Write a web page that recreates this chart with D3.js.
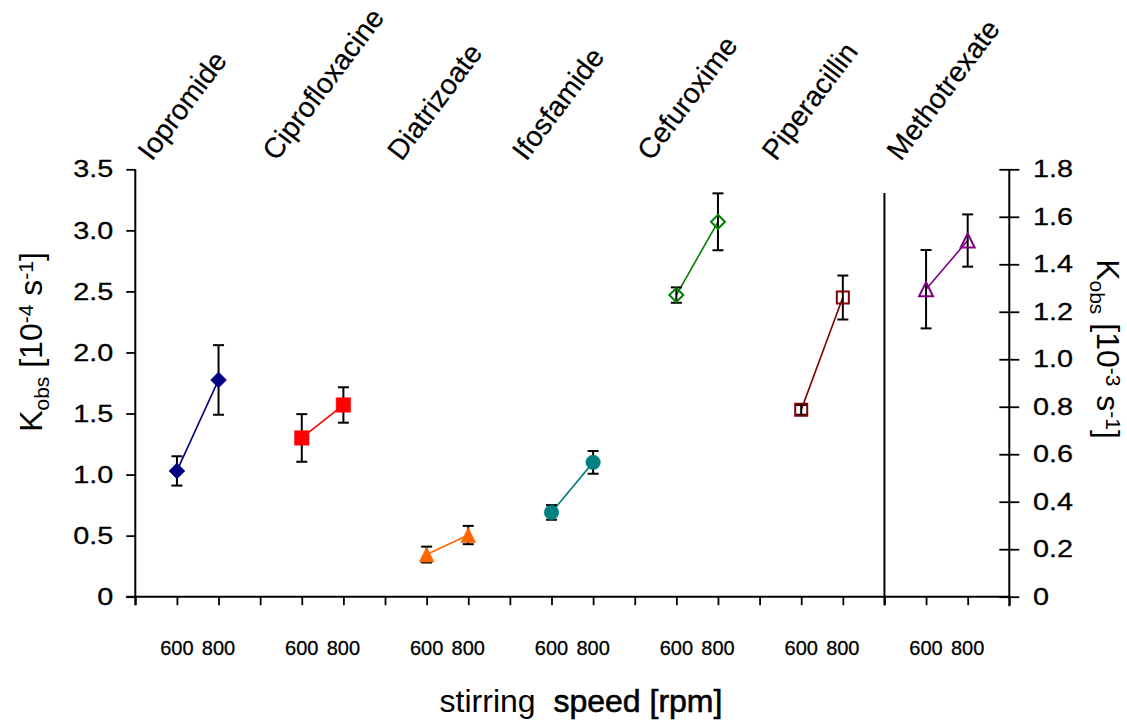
<!DOCTYPE html>
<html>
<head>
<meta charset="utf-8">
<script src="https://cdn.jsdelivr.net/npm/d3@7"></script>
<style>
  html, body { margin: 0; padding: 0; background: #fff; }
  svg { display: block; font-family: "Liberation Sans", Arial, Helvetica, sans-serif; }
</style>
</head>
<body>
<svg id="chart" width="1127" height="720"></svg>
<script>
// ---- data ----
const compounds = ["Iopromide", "Ciprofloxacine", "Diatrizoate", "Ifosfamide", "Cefuroxime", "Piperacillin", "Methotrexate"];
const speeds = [600, 800];
// Kobs values; first six on left axis [10^-4 s^-1], Methotrexate on right axis [10^-3 s^-1]
const kobs600 = [1.03, 1.30, 0.345, 0.69, 2.47, 1.53, 1.295];
const kobs800 = [1.775, 1.57, 0.505, 1.10, 3.07, 2.45, 1.50];
const err600 = [0.12, 0.195, 0.065, 0.06, 0.063, 0.04, 0.165];
const err800 = [0.285, 0.145, 0.075, 0.093, 0.233, 0.18, 0.11];
const axisSide = ["left", "left", "left", "left", "left", "left", "right"];
const leftTicks = [0, 0.5, 1.0, 1.5, 2.0, 2.5, 3.0, 3.5];
const rightTicks = [0, 0.2, 0.4, 0.6, 0.8, 1.0, 1.2, 1.4, 1.6, 1.8];

// styling per series
const colors = ["#000080", "#FF0000", "#FF6600", "#008080", "#008000", "#800000", "#800080"];
const shapes = ["diamond", "square", "triangle", "circle", "diamond", "square", "triangle"];
const filled = [true, true, true, true, false, false, false];

const svg = d3.select("#chart");
const plotLeft = 135.3, plotRight = 1009.3, plotBottom = 596.7, plotTop = 169.3;

const x = d3.scaleLinear().domain([0, 21]).range([plotLeft, plotRight]);
const yL = d3.scaleLinear().domain([0, 3.5]).range([plotBottom, plotTop]);
const yR = d3.scaleLinear().domain([0, 1.8]).range([plotBottom, plotTop]);

const FONT = '"Liberation Sans", Arial, Helvetica, sans-serif';
const stretch = 1.2;

// ---- left axis ----
const gL = svg.append("g").attr("transform", `translate(${plotLeft},0)`)
  .call(d3.axisLeft(yL).tickValues(leftTicks).tickSize(9).tickSizeOuter(0)
    .tickFormat(d => d === 0 ? "0" : d3.format(".1f")(d)));
gL.select(".domain").attr("stroke-width", 2).attr("d", `M0,${plotTop}V${plotBottom + 8.5}`);
gL.selectAll(".tick line").attr("stroke-width", 1.8);
gL.selectAll(".tick text")
  .attr("font-family", FONT).attr("font-size", 24).attr("fill", "#000")
  .attr("stroke", "#000").attr("stroke-width", 0.3)
  .attr("x", -22 / stretch).attr("transform", `scale(${stretch},1)`);

// ---- right axis ----
const gR = svg.append("g").attr("transform", `translate(${plotRight},0)`)
  .call(d3.axisRight(yR).tickValues(rightTicks).tickSize(10).tickSizeOuter(0)
    .tickFormat(d => d === 0 ? "0" : d3.format(".1f")(d)));
gR.select(".domain").attr("stroke-width", 2).attr("d", `M0,${plotTop}V${plotBottom + 9.5}`);
gR.selectAll(".tick line").attr("stroke-width", 1.8).attr("x1", -10).attr("x2", 10);
gR.selectAll(".tick text")
  .attr("font-family", FONT).attr("font-size", 24).attr("fill", "#000")
  .attr("stroke", "#000").attr("stroke-width", 0.3)
  .attr("x", 23.7 / stretch).attr("transform", `scale(${stretch},1)`);

// ---- bottom axis ----
const gB = svg.append("g").attr("transform", `translate(0,${plotBottom})`)
  .call(d3.axisBottom(x).tickValues(d3.range(0, 22)).tickSize(8.5).tickSizeOuter(0).tickFormat(""));
gB.select(".domain").attr("stroke-width", 2).attr("d", `M${plotLeft - 9},0H${plotRight}`);
gB.selectAll(".tick line").attr("stroke-width", 1.8);

// divider before Methotrexate
svg.append("line")
  .attr("x1", x(18)).attr("x2", x(18))
  .attr("y1", 193).attr("y2", plotBottom + 8.5)
  .attr("stroke", "#000").attr("stroke-width", 2);

// ---- speed labels under each point ----
compounds.forEach((c, g) => {
  speeds.forEach((s, k) => {
    svg.append("text")
      .attr("x", x(3 * g + 1 + k)).attr("y", 655)
      .attr("text-anchor", "middle")
      .attr("font-family", FONT).attr("font-size", 20).attr("fill", "#000")
      .attr("stroke", "#000").attr("stroke-width", 0.3)
      .text(s);
  });
});

// ---- compound labels (rotated) ----
compounds.forEach((c, g) => {
  const cx = x(3 * g + 1.5) - 46;
  svg.append("text")
    .attr("transform", `translate(${cx},162) rotate(-53)`)
    .attr("font-family", FONT).attr("font-size", 28.5).attr("fill", "#000")
    .attr("stroke", "#000").attr("stroke-width", 0.2)
    .text(c);
});

// ---- marker path generator ----
function markerPath(shape, s) {
  const h = s / 2;
  switch (shape) {
    case "diamond": return `M0,${-h}L${h},0L0,${h}L${-h},0Z`;
    case "square": return `M${-h},${-h}H${h}V${h}H${-h}Z`;
    case "triangle": return `M0,${-h}L${h},${h}L${-h},${h}Z`;
    case "circle": return d3.symbol(d3.symbolCircle, Math.PI * h * h)();
  }
}

// ---- series ----
compounds.forEach((c, g) => {
  const y = axisSide[g] === "left" ? yL : yR;
  const pts = [
    { xv: 3 * g + 1, v: kobs600[g], e: err600[g] },
    { xv: 3 * g + 2, v: kobs800[g], e: err800[g] }
  ];
  const sg = svg.append("g");
  // connecting line
  sg.append("path")
    .attr("d", d3.line().x(d => x(d.xv)).y(d => y(d.v))(pts))
    .attr("fill", "none").attr("stroke", colors[g]).attr("stroke-width", 1.6);
  // error bars
  pts.forEach(p => {
    const xx = x(p.xv), y1 = y(p.v + p.e), y2 = y(p.v - p.e);
    sg.append("line").attr("x1", xx).attr("x2", xx).attr("y1", y1).attr("y2", y2)
      .attr("stroke", "#000").attr("stroke-width", 2);
    [y1, y2].forEach(yy => sg.append("line")
      .attr("x1", xx - 5.5).attr("x2", xx + 5.5).attr("y1", yy).attr("y2", yy)
      .attr("stroke", "#000").attr("stroke-width", 2));
  });
  // markers
  const size = filled[g] ? (shapes[g] === "diamond" ? 16 : (shapes[g] === "triangle" ? 15 : 14.5))
                         : (shapes[g] === "square" ? 12 : 14);
  pts.forEach(p => {
    sg.append("path")
      .attr("transform", `translate(${x(p.xv)},${y(p.v)})`)
      .attr("d", markerPath(shapes[g], size))
      .attr("fill", filled[g] ? colors[g] : "none")
      .attr("stroke", colors[g])
      .attr("stroke-width", filled[g] ? 0.5 : 2);
  });
});

// ---- axis titles ----
function kobsTitle(sel, exp) {
  sel.attr("font-family", FONT).attr("font-size", 32).attr("fill", "#000").attr("text-anchor", "middle");
  sel.append("tspan").text("K");
  sel.append("tspan").attr("font-size", 21).attr("dy", 7).text("obs");
  sel.append("tspan").attr("dy", -7).text(" [10");
  sel.append("tspan").attr("font-size", 21).attr("dy", -9).text(exp);
  sel.append("tspan").attr("dy", 9).text(" s");
  sel.append("tspan").attr("font-size", 21).attr("dy", -9).text("-1");
  sel.append("tspan").attr("dy", 9).text("]");
}
kobsTitle(svg.append("text").attr("transform", "translate(42,342) rotate(-90)"), "-4");
kobsTitle(svg.append("text").attr("transform", "translate(1097,349) rotate(90)"), "-3");

// bottom title
const bt = svg.append("text")
  .attr("x", 581).attr("y", 712).attr("text-anchor", "middle")
  .attr("font-family", FONT).attr("font-size", 32).attr("fill", "#000")
  .style("white-space", "pre");
bt.append("tspan").text("stirring  ");
bt.append("tspan").attr("stroke", "#000").attr("stroke-width", 0.6).text("speed [rpm]");
</script>
</body>
</html>
